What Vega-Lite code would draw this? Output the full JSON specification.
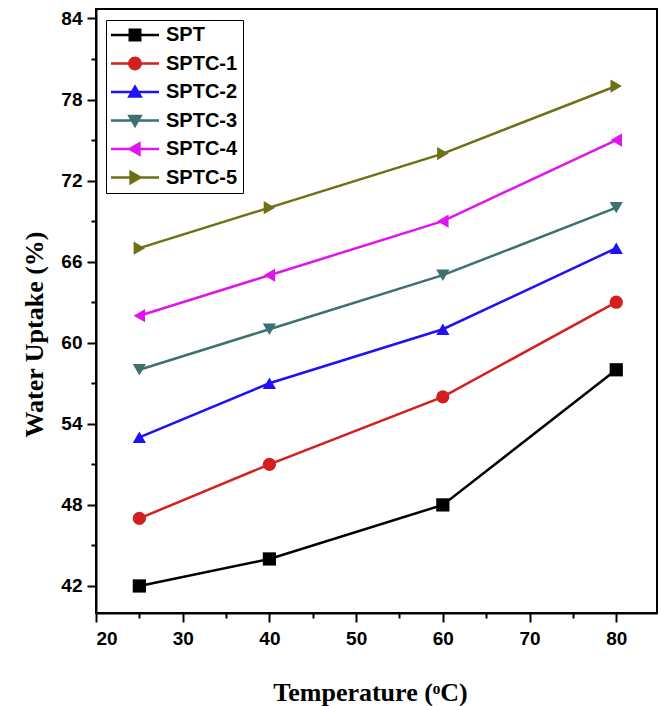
{
  "$schema": "https://vega.github.io/schema/vega-lite/v6.json",
  "width": 561,
  "height": 604,
  "autosize": {"type": "none"},
  "padding": {"left": 96, "top": 9, "right": 3, "bottom": 93},
  "background": "white",
  "data": {
    "values": [
      {"t": 25, "w": 42, "s": "SPT", "m": "SPT"}, {"t": 40, "w": 44, "s": "SPT", "m": "SPT"}, {"t": 60, "w": 48, "s": "SPT", "m": "SPT"}, {"t": 80, "w": 58, "s": "SPT", "m": "SPT"},
      {"t": 25, "w": 47, "s": "SPTC-1", "m": "SPTC-1"}, {"t": 40, "w": 51, "s": "SPTC-1", "m": "SPTC-1"}, {"t": 60, "w": 56, "s": "SPTC-1", "m": "SPTC-1"}, {"t": 80, "w": 63, "s": "SPTC-1", "m": "SPTC-1"},
      {"t": 25, "w": 53, "s": "SPTC-2", "m": "SPTC-2"}, {"t": 40, "w": 57, "s": "SPTC-2", "m": "SPTC-2"}, {"t": 60, "w": 61, "s": "SPTC-2", "m": "SPTC-2"}, {"t": 80, "w": 67, "s": "SPTC-2", "m": "SPTC-2"},
      {"t": 25, "w": 58, "s": "SPTC-3", "m": "SPTC-3"}, {"t": 40, "w": 61, "s": "SPTC-3", "m": "SPTC-3"}, {"t": 60, "w": 65, "s": "SPTC-3", "m": "SPTC-3"}, {"t": 80, "w": 70, "s": "SPTC-3", "m": "SPTC-3"},
      {"t": 25, "w": 62, "s": "SPTC-4", "m": "SPTC-4"}, {"t": 40, "w": 65, "s": "SPTC-4", "m": "SPTC-4"}, {"t": 60, "w": 69, "s": "SPTC-4", "m": "SPTC-4"}, {"t": 80, "w": 75, "s": "SPTC-4", "m": "SPTC-4"},
      {"t": 25, "w": 67, "s": "SPTC-5", "m": "SPTC-5"}, {"t": 40, "w": 70, "s": "SPTC-5", "m": "SPTC-5"}, {"t": 60, "w": 74, "s": "SPTC-5", "m": "SPTC-5"}, {"t": 80, "w": 79, "s": "SPTC-5", "m": "SPTC-5"}
    ]
  },
  "encoding": {
    "x": {
      "field": "t", "type": "quantitative",
      "scale": {"domain": [20, 84.7], "nice": false, "zero": false},
      "axis": {
        "title": "Temperature (ᵒC)",
        "values": [20, 25, 30, 35, 40, 45, 50, 55, 60, 65, 70, 75, 80],
        "labelExpr": "datum.value % 10 === 0 ? datum.label : ''",
        "tickSize": {"condition": {"test": "datum.value % 10 === 0", "value": 9}, "value": 5},
        "labelPadding": 7,
        "titleX": 274, "titleY": 87, "titleAlign": "center", "titleBaseline": "alphabetic"
      }
    },
    "y": {
      "field": "w", "type": "quantitative",
      "scale": {"domain": [40, 84.7], "nice": false, "zero": false},
      "axis": {
        "title": "Water Uptake (%)",
        "values": [42, 45, 48, 51, 54, 57, 60, 63, 66, 69, 72, 75, 78, 81, 84],
        "labelExpr": "(datum.value - 42) % 6 === 0 ? datum.label : ''",
        "tickSize": {"condition": {"test": "(datum.value - 42) % 6 === 0", "value": 9}, "value": 5},
        "labelPadding": 5,
        "titleX": -54, "titleY": 325, "titleAlign": "center", "titleBaseline": "alphabetic", "titleAngle": 270
      }
    },
    "color": {
      "field": "s", "type": "nominal",
      "scale": {
        "domain": ["SPT", "SPTC-1", "SPTC-2", "SPTC-3", "SPTC-4", "SPTC-5"],
        "range": ["#000000", "#d41f1f", "#1f10f5", "#3d7070", "#df14ef", "#6f7014"]
      },
      "legend": {
        "title": null,
        "orient": "none",
        "legendX": 10,
        "legendY": 11,
        "padding": 5,
        "strokeColor": "black",
        "fillColor": "white",
        "symbolSize": 144,
        "symbolStrokeWidth": 0,
        "symbolOffset": 14,
        "labelOffset": 21,
        "rowPadding": 8.5,
        "labelFont": "Liberation Sans",
        "labelFontWeight": "bold",
        "labelFontSize": 20,
        "labelColor": "black",
        "encode": {
          "symbols": {
            "update": {
              "shape": {"signal": "datum.value === 'SPT' ? 'M-4,-0.2H4V0.2H-4ZM-1.08,-1.08H1.08V1.08H-1.08Z' : datum.value === 'SPTC-1' ? 'M-4,-0.2H4V0.2H-4ZM1.15,0A1.15,1.15,0,1,1,-1.15,0A1.15,1.15,0,1,1,1.15,0Z' : datum.value === 'SPTC-2' ? 'M-4,-0.2H4V0.2H-4ZM0,-1.3L1.3,0.95L-1.3,0.95Z' : datum.value === 'SPTC-3' ? 'M-4,-0.2H4V0.2H-4ZM0,1.3L-1.3,-0.95L1.3,-0.95Z' : datum.value === 'SPTC-4' ? 'M-4,-0.2H4V0.2H-4ZM-1.3,0L0.95,-1.3L0.95,1.3Z' : 'M-4,-0.2H4V0.2H-4ZM1.3,0L-0.95,1.3L-0.95,-1.3Z'"},
              "fill": {"signal": "scale('color', datum.value)"},
              "size": {"value": 144},
              "opacity": {"value": 1}
            }
          }
        }
      }
    }
  },
  "layer": [
    {"mark": {"type": "line", "strokeWidth": 2.5}},
    {
      "mark": {"type": "point", "filled": true, "opacity": 1, "size": 175},
      "encoding": {
        "shape": {
          "field": "m", "type": "nominal",
          "scale": {
            "range": ["square", "circle", "triangle-up", "triangle-down", "triangle-left", "triangle-right"]
          },
          "legend": null
        }
      }
    }
  ],
  "config": {
    "view": {"stroke": "black", "strokeWidth": 2},
    "style": {
      "guide-label": {"font": "Liberation Sans", "fontWeight": "bold", "fontSize": 19, "fill": "black"}
    },
    "axis": {
      "grid": false,
      "domainColor": "black",
      "domainWidth": 2,
      "tickColor": "black",
      "tickWidth": 2,
      "labelColor": "black",
      "labelFont": "Liberation Sans",
      "labelFontWeight": "bold",
      "labelFontSize": 19,
      "titleFont": "Liberation Serif",
      "titleFontWeight": "bold",
      "titleFontSize": 26,
      "titleColor": "black"
    }
  }
}
